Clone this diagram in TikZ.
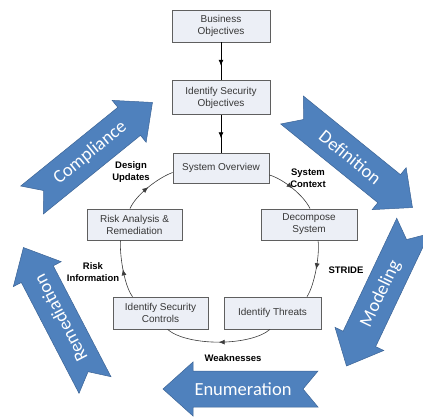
\documentclass[tikz,border=0pt]{standalone}
\usepackage{fontspec}
\setmainfont{Liberation Sans}
\newfontfamily\arrowfont{Carlito}
\usetikzlibrary{arrows.meta,decorations.markings}

\definecolor{boxfill}{RGB}{236,239,246}
\definecolor{boxline}{RGB}{95,95,95}
\definecolor{boxtext}{RGB}{55,55,55}
\definecolor{flowblue}{RGB}{79,129,189}
\definecolor{flowedge}{RGB}{60,100,150}
\definecolor{arcline}{RGB}{60,60,60}

\tikzset{
  stagebox/.style={draw=boxline, line width=0.8pt, fill=boxfill, minimum width=96pt,
    minimum height=32pt, align=center, inner sep=1pt,
    font=\fontsize{10}{12}\selectfont, text=boxtext},
  flowlabel/.style={align=center, inner sep=0pt, font=\fontsize{9.5}{11.5}\selectfont\bfseries, text=black},
  midarrow/.style={postaction={decorate}, decoration={markings,
    mark=at position #1 with {\arrow{Latex[length=6pt,width=5pt]}}}},
  cycleedge/.style={draw=arcline, line width=0.6pt, midarrow=0.5},
  feededge/.style={draw=black, line width=0.8pt, midarrow=0.62},
  bigarrow/.style={fill=flowblue, draw=flowedge, line width=0.5pt},
  arrowword/.style={text=white, inner sep=0pt, font=\arrowfont\fontsize{18.5}{20}\selectfont},
}

% notched block arrow: #1 name, #2 tail centre, #3 direction, #4 word, #5 word angle
\newcommand\flowarrow[5]{%
  \begin{scope}[shift={#2}, rotate=#3]
    \path[bigarrow] (0,18) -- (125,18) -- (125,27) -- (155,0) -- (125,-27)
      -- (125,-18) -- (0,-18) -- (15,0) -- cycle;
    \node[arrowword, rotate=#5] (#1) at (75,0) {#4};
  \end{scope}}

\begin{document}
\begin{tikzpicture}[x=1pt, y=-1pt]
  \useasboundingbox (0,0) rectangle (423,416);

  % outer phases
  \flowarrow{compliance}{(32,200)}{39}{Compliance}{39}
  \flowarrow{definition}{(292,110)}{-39}{Definition}{-39}
  \flowarrow{modeling}{(413,226)}{-115.4}{Modeling}{64.6}
  \flowarrow{enumeration}{(318,389)}{180}{Enumeration}{0}
  \flowarrow{remediation}{(95,385)}{117.5}{Remediation}{117.5}

  % stages
  \node[stagebox, minimum width=98pt] (bizobj) at (221,26) {Business\\Objectives};
  \node[stagebox, minimum width=98pt, minimum height=34pt] (secobj) at (221,97.5) {Identify Security\\Objectives};
  \node[stagebox, minimum height=30pt] (sysov) at (221,168) {System Overview};
  \node[stagebox, minimum width=95pt, minimum height=31pt] (risk) at (134.5,224.5) {Risk Analysis \&\\Remediation};
  \node[stagebox, minimum height=31pt] (decomp) at (309,224.5) {Decompose\\System};
  \node[stagebox, minimum width=95pt] (controls) at (160.5,313) {Identify Security\\Controls};
  \node[stagebox, minimum width=97pt] (threats) at (272.5,313) {Identify Threats};

  % feed into the cycle
  \draw[feededge] (bizobj) -- (secobj);
  \draw[feededge] (secobj) -- (sysov);

  % the cycle
  \draw[cycleedge] ([yshift=-7pt]sysov.east) .. controls +(14,4) and +(-6,-13) .. ([xshift=1pt]decomp.north);
  \draw[cycleedge] ([xshift=9pt]decomp.south) .. controls +(2,12) and +(8,-12) .. ([xshift=34.5pt]threats.north);
  \draw[cycleedge] ([xshift=-2.5pt]threats.south) .. controls +(-20,17) and +(20,17) .. ([xshift=7pt]controls.south);
  \draw[cycleedge] ([xshift=-28pt]controls.north) .. controls +(-9,-12) and +(-1,12) .. ([xshift=-14pt]risk.south);
  \draw[cycleedge] ([xshift=-4.5pt]risk.north) .. controls +(6,-14) and +(-14,5) .. ([yshift=-4.5pt]sysov.west);

  % edge labels
  \node[flowlabel] (lbldesign) at (131,172) {Design\\Updates};
  \node[flowlabel] (lblcontext) at (308,178) {System\\Context};
  \node[flowlabel] (lblstride) at (346,270) {STRIDE};
  \node[flowlabel] (lblrisk) at (93,272) {Risk\\Information};
  \node[flowlabel] (lblweak) at (233,358) {Weaknesses};
\end{tikzpicture}
\end{document}
